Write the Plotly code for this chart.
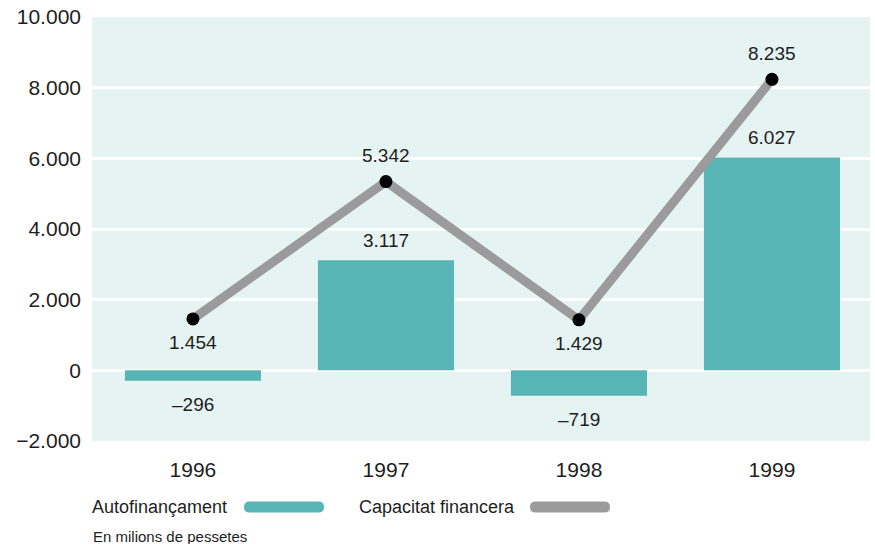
import plotly.graph_objects as go

# Data (milions de pessetes)
years = ["1996", "1997", "1998", "1999"]
autofinancament = [-296, 3117, -719, 6027]
capacitat_financera = [1454, 5342, 1429, 8235]

y_ticks = [-2000, 0, 2000, 4000, 6000, 8000, 10000]

BAR_COLOR = "#58b5b5"
LINE_COLOR = "#9b9b9b"
BG_COLOR = "#e5f3f2"
TEXT_COLOR = "#1e1e1e"
FONT = "Liberation Sans, Arial, sans-serif"

W, H = 875, 544
M_L, M_R, M_T, M_B = 92, 5, 17, 103


def fmt(v):
    s = f"{abs(v):,}".replace(",", ".")
    return ("\u2013" + s) if v < 0 else s


def px_x(x):
    return (x - M_L) / (W - M_L - M_R)


def px_y(y):
    return (H - M_B - y) / (H - M_T - M_B)


fig = go.Figure()

fig.add_trace(go.Bar(
    x=years, y=autofinancament, width=0.705,
    marker=dict(color=BAR_COLOR, line=dict(width=0)),
    name="Autofinançament", showlegend=False, hoverinfo="skip",
))

fig.add_trace(go.Scatter(
    x=years, y=capacitat_financera, mode="lines+markers",
    line=dict(color=LINE_COLOR, width=9),
    marker=dict(color="black", size=13, line=dict(width=0)),
    name="Capacitat financera", showlegend=False, hoverinfo="skip",
))

annotations = []

# Bar value labels: above positive bars, below negative ones
# (x given as category index so year strings aren't read as numbers)
for i, v in enumerate(autofinancament):
    annotations.append(dict(
        x=i, y=v, xref="x", yref="y", text=fmt(v), showarrow=False,
        yshift=20 if v >= 0 else -24,
        font=dict(family=FONT, size=19, color=TEXT_COLOR),
    ))

# Line value labels: below local minima, above local maxima
n = len(capacitat_financera)
for i, v in enumerate(capacitat_financera):
    neighbours = [capacitat_financera[j] for j in (i - 1, i + 1) if 0 <= j < n]
    below = all(v < nb for nb in neighbours)
    annotations.append(dict(
        x=i, y=v, xref="x", yref="y", text=fmt(v), showarrow=False,
        yshift=-24 if below else 26,
        font=dict(family=FONT, size=19, color=TEXT_COLOR),
    ))

# Custom legend: label text followed by a rounded swatch
legend_items = [
    ("Autofinançament", BAR_COLOR, 90, 244),
    ("Capacitat financera", LINE_COLOR, 357, 530),
]
shapes = []
leg_y = 507
for label, color, tx, sx in legend_items:
    annotations.append(dict(
        x=px_x(tx), y=px_y(leg_y), xref="paper", yref="paper",
        xanchor="left", yanchor="middle", text=label, showarrow=False,
        font=dict(family=FONT, size=18, color=TEXT_COLOR),
    ))
    x0, x1 = px_x(sx), px_x(sx + 80)
    y0, y1 = px_y(leg_y + 5.5), px_y(leg_y - 5.5)
    ym = (y0 + y1) / 2
    rx = px_x(sx + 5.5) - px_x(sx)
    path = (f"M {x0 + rx},{y0} L {x1 - rx},{y0} Q {x1},{y0} {x1},{ym} "
            f"Q {x1},{y1} {x1 - rx},{y1} L {x0 + rx},{y1} Q {x0},{y1} {x0},{ym} "
            f"Q {x0},{y0} {x0 + rx},{y0} Z")
    shapes.append(dict(type="path", path=path, xref="paper", yref="paper",
                       fillcolor=color, line=dict(width=0), layer="above"))

annotations.append(dict(
    x=px_x(91), y=px_y(536), xref="paper", yref="paper",
    xanchor="left", yanchor="middle", text="En milions de pessetes",
    showarrow=False, font=dict(family=FONT, size=15, color=TEXT_COLOR),
))

fig.update_layout(
    width=W, height=H,
    margin=dict(l=M_L, r=M_R, t=M_T, b=M_B, pad=0),
    paper_bgcolor="white", plot_bgcolor=BG_COLOR,
    separators=",.",
    annotations=annotations, shapes=shapes,
    showlegend=False,
    xaxis=dict(
        type="category", range=[-0.523, 3.508], showgrid=False, zeroline=False,
        showline=False, ticks="", ticklabelstandoff=14,
        tickfont=dict(family=FONT, size=21, color=TEXT_COLOR),
    ),
    yaxis=dict(
        range=[-2000, 10000], tickvals=y_ticks, tickformat=",.0f",
        showgrid=True, gridcolor="white", gridwidth=2.5, zeroline=False,
        showline=False, ticks="", ticklabelstandoff=10,
        tickfont=dict(family=FONT, size=21, color=TEXT_COLOR),
    ),
)

fig.write_html("out.html")
